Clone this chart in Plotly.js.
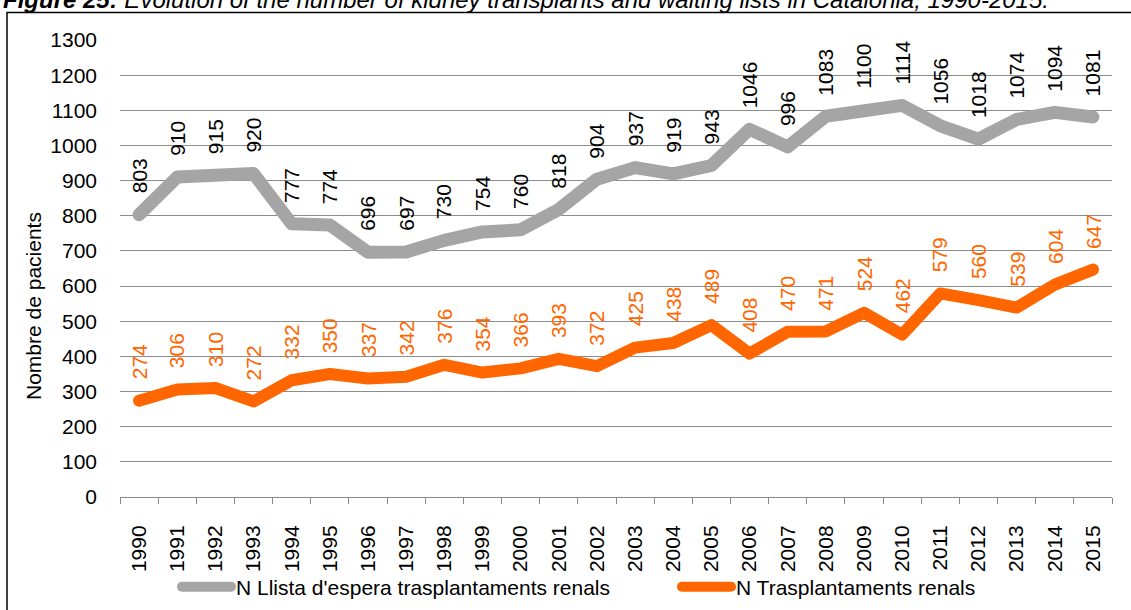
<!DOCTYPE html>
<html>
<head>
<meta charset="utf-8">
<script src="https://cdn.plot.ly/plotly-3.0.1.min.js"></script>
<style>
html,body{margin:0;padding:0;background:#fff;}
#chart{width:1131px;height:610px;}
.scatterlayer path.js-line, .legendlines path{stroke-linecap:round;stroke-linejoin:round;}
</style>
</head>
<body>
<div id="chart"></div>
<script>
const years = ["1990","1991","1992","1993","1994","1995","1996","1997","1998","1999","2000","2001","2002","2003","2004","2005","2006","2007","2008","2009","2010","2011","2012","2013","2014","2015"];
const waitingList = [803,910,915,920,777,774,696,697,730,754,760,818,904,937,919,943,1046,996,1083,1100,1114,1056,1018,1074,1094,1081];
const transplants = [274,306,310,272,332,350,337,342,376,354,366,393,372,425,438,489,408,470,471,524,462,579,560,539,604,647];
const seriesNames = ["N Llista d'espera trasplantaments renals", "N Trasplantaments renals"];
const titleBold = "Figure 25:";
const titleRest = " Evolution of the number of kidney transplants and waiting lists in Catalonia, 1990-2015.";
const yTitle = "Nombre de pacients";

const FONT = "Liberation Sans, Arial, sans-serif";
const GRAY = "#A5A5A5";
const ORANGE = "#FF6600";
const FS = 21;

const W = 1131, H = 610;
const M = {l:120, r:19, t:40, b:113, autoexpand: false};
const PW = W - M.l - M.r, PH = H - M.t - M.b;
const px = x => (x - M.l) / PW;
const py = y => (H - M.b - y) / PH;

const traces = [
  {x: years, y: waitingList, name: seriesNames[0], type: "scatter", mode: "lines",
   line: {color: GRAY, width: 13}, hoverinfo: "skip", legend: "legend"},
  {x: years, y: transplants, name: seriesNames[1], type: "scatter", mode: "lines",
   line: {color: ORANGE, width: 12}, hoverinfo: "skip", legend: "legend2"}
];

const annotations = [];
function addLabels(vals, color){
  vals.forEach((v, i) => {
    annotations.push({x: i, y: v, xref: "x", yref: "y", text: String(v),
      textangle: -90, showarrow: false, xanchor: "center", yanchor: "bottom",
      yshift: 19, font: {family: FONT, size: FS, color: color}});
  });
}
addLabels(waitingList, "#000000");
addLabels(transplants, ORANGE);

annotations.push({xref: "paper", yref: "paper", x: px(33), y: py(306), text: yTitle,
  textangle: -90, showarrow: false, xanchor: "center", yanchor: "middle",
  font: {family: FONT, size: FS, color: "#000"}});
annotations.push({xref: "paper", yref: "paper", x: px(1), y: py(15),
  text: "<i><b>" + titleBold + "</b>" + titleRest + "</i>",
  showarrow: false, xanchor: "left", yanchor: "bottom",
  font: {family: FONT, size: 24, color: "#000"}});

const shapes = [{type: "rect", xref: "paper", yref: "paper",
  x0: px(7), x1: px(1140), y0: py(620), y1: py(12.5),
  line: {color: "#000", width: 1.5}, fillcolor: "rgba(0,0,0,0)", layer: "below"}];

function legendAt(xPix){
  return {orientation: "h", x: px(xPix), xanchor: "left", y: py(587), yanchor: "middle",
    font: {family: FONT, size: FS, color: "#000"}, itemwidth: 49,
    bgcolor: "rgba(0,0,0,0)"};
}

const layout = {
  width: W, height: H,
  margin: M,
  paper_bgcolor: "#fff", plot_bgcolor: "#fff",
  font: {family: FONT, size: FS, color: "#000"},
  showlegend: true,
  legend: legendAt(177),
  legend2: legendAt(677),
  xaxis: {type: "category", tickson: "boundaries", ticks: "outside", ticklen: 6,
    tickcolor: "#888", tickwidth: 1, showline: true, linecolor: "#888", linewidth: 1,
    showgrid: false, tickangle: -90, ticklabelstandoff: 19,
    tickfont: {family: FONT, size: FS, color: "#000"},
    range: [-0.5, 25.5], fixedrange: true},
  yaxis: {range: [0, 1300], dtick: 100, tick0: 0, showgrid: true, gridcolor: "#8c8c8c",
    gridwidth: 1, zeroline: false, showline: false, ticks: "", ticklabelstandoff: 22,
    tickfont: {family: FONT, size: FS, color: "#000"}, fixedrange: true},
  annotations: annotations,
  shapes: shapes
};

Plotly.newPlot("chart", traces, layout, {staticPlot: true, displayModeBar: false});
</script>
</body>
</html>
